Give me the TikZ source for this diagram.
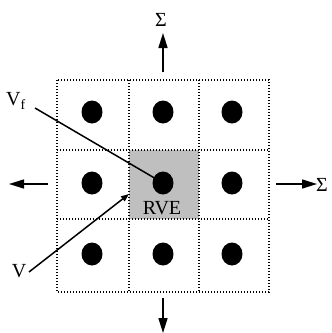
\documentclass[tikz,border=0pt]{standalone}
\usepackage{fontspec}
\setmainfont{Liberation Serif}
\usetikzlibrary{shapes.geometric,arrows.meta}
\begin{document}
\begin{tikzpicture}[x=1pt,y=-1pt,
  griddot/.style={line width=1.4pt,dash pattern=on 1.4pt off 1.6pt},
  incl/.style={ellipse,fill=black,minimum width=21pt,minimum height=23pt,inner sep=0pt},
  load/.style={line width=1.6pt,-{Triangle[length=15pt,width=9pt]}},
  lbl/.style={inner sep=0pt,font=\fontsize{20}{20}\selectfont},
  lead/.style={line width=1.5pt}]
\useasboundingbox (0,0) rectangle (332,333);
% RVE cell
\node[fill=black!25,minimum width=70pt,minimum height=69pt,inner sep=0pt,anchor=north west] (rve) at (129,150) {};
% grid
\draw[griddot] (57,80) rectangle (269,292);
\draw[griddot] (129,80) -- (129,292);
\draw[griddot] (199,80) -- (199,292);
\draw[griddot] (57,150) -- (269,150);
\draw[griddot] (57,219) -- (269,219);
% inclusions
\node[incl] (d11) at (92,112) {};
\node[incl] (d12) at (163,112) {};
\node[incl] (d13) at (232,112) {};
\node[incl] (d21) at (92,183) {};
\node[incl] (d22) at (163,183) {};
\node[incl] (d23) at (232,183) {};
\node[incl] (d31) at (92,254) {};
\node[incl] (d32) at (163,254) {};
\node[incl] (d33) at (232,254) {};
\node[lbl] (rvel) at (162,208) {RVE};
% loads
\coordinate (t0) at (163,72); \coordinate (t1) at (163,33);
\coordinate (b0) at (163,298); \coordinate (b1) at (163,333);
\coordinate (l0) at (48,184); \coordinate (l1) at (9,184);
\coordinate (r0) at (276,184); \coordinate (r1) at (317,184);
\draw[load] (t0) -- (t1);
\draw[load] (b0) -- (b1);
\draw[load] (l0) -- (l1);
\draw[load] (r0) -- (r1);
\node[lbl] (st) at (161,20) {Σ};
\node[lbl,anchor=west] (sr) at (316,185) {Σ};
% labels
\node[lbl] (vf) at (16,101) {V\textsubscript{f}};
\node[lbl] (v) at (19,271) {V};
\coordinate (vfs) at (35,108);
\coordinate (vs) at (29,272);
\coordinate (ve) at (129,194);
\draw[lead] (vfs) -- (d22.center);
\draw[lead,-{Triangle[length=8pt,width=6pt]}] (vs) -- (ve);
\end{tikzpicture}
\end{document}
